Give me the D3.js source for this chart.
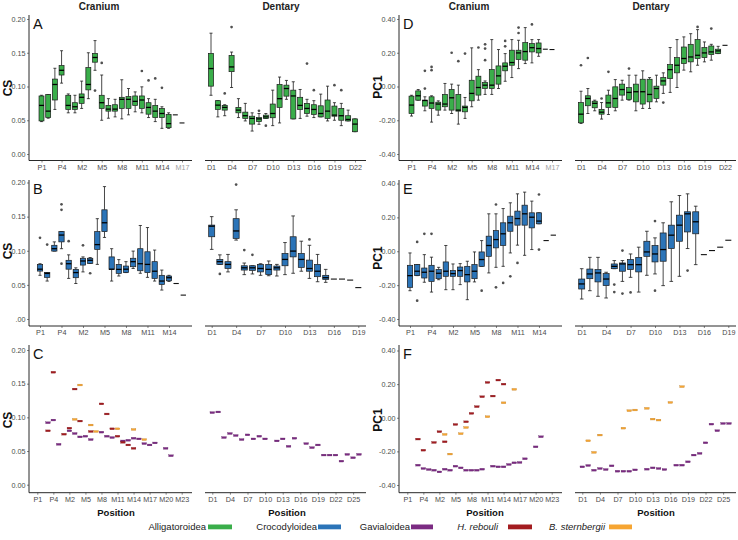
<!DOCTYPE html>
<html><head><meta charset="utf-8">
<script src="https://cdn.jsdelivr.net/npm/d3@7/dist/d3.min.js"></script>
<style>body{margin:0;background:#fff}svg{display:block}</style>
</head><body><svg id="c" width="738" height="540"></svg>
<script>
// ---------- categories ----------
const craniumCats22 = ["P1","P2","P3","P4","P5","M1","M2","M3","M4","M5","M6","M7","M8","M9","M10","M11","M12","M13","M14","M15","M16","M17"];
const craniumCats21 = ["P1","P2","P3","P4","P5","M1","M2","M3","M4","M5","M6","M7","M8","M9","M10","M11","M12","M13","M14","M15","M16"];
const craniumCats28 = ["P1","P2","P3","P4","P5","M1","M2","M3","M4","M5","M6","M7","M8","M9","M10","M11","M12","M13","M14","M15","M16","M17","M18","M19","M20","M21","M22","M23"];
const dentaryCats22 = ["D1","D2","D3","D4","D5","D6","D7","D8","D9","D10","D11","D12","D13","D14","D15","D16","D17","D18","D19","D20","D21","D22"];
const dentaryCats19 = ["D1","D2","D3","D4","D5","D6","D7","D8","D9","D10","D11","D12","D13","D14","D15","D16","D17","D18","D19"];
const dentaryCats26 = ["D1","D2","D3","D4","D5","D6","D7","D8","D9","D10","D11","D12","D13","D14","D15","D16","D17","D18","D19","D20","D21","D22","D23","D24","D25","D26"];

// ---------- tick labels ----------
const craniumTicks1 = ["P1","P4","M2","M5","M8","M11","M14","M17"];
const craniumTicks2 = ["P1","P4","M2","M5","M8","M11","M14"];
const craniumTicks3 = ["P1","P4","M2","M5","M8","M11","M14","M17","M20","M23"];
const dentaryTicks1 = ["D1","D4","D7","D10","D13","D16","D19","D22"];
const dentaryTicks2 = ["D1","D4","D7","D10","D13","D16","D19"];
const dentaryTicks3 = ["D1","D4","D7","D10","D13","D16","D19","D22","D25"];
const csTickValues = [0, 0.05, 0.10, 0.15, 0.20];
const csTickLabels = ["0.00","0.05","0.10","0.15","0.20"];
const csTickLabelsB = [".00","0.05","0.10","0.15","0.20"];
const pcTickValues = [-0.4, -0.2, 0, 0.2, 0.4];
const pcTickLabels = ["-0.40","-0.20","0.00","0.20","0.40"];

// ---------- box data: [position, lowerWhisker, q1, median, q3, upperWhisker, outliers] ----------
// A: Alligatoroidea CS
const csAlliCranium = [
 ["P1",0.048,0.049,0.072,0.086,0.087,[]],
 ["P2",0.053,0.054,0.0635,0.088,0.088,[]],
 ["P3",0.066,0.080,0.103,0.111,0.127,[]],
 ["P4",0.105,0.117,0.124,0.131,0.153,[]],
 ["P5",0.061,0.066,0.072,0.087,0.089,[]],
 ["M1",0.061,0.066,0.070,0.076,0.087,[]],
 ["M2",0.0675,0.075,0.084,0.089,0.108,[]],
 ["M3",0.082,0.095,0.103,0.128,0.150,[]],
 ["M4",0.124,0.136,0.143,0.149,0.168,[0.094]],
 ["M5",0.050,0.0675,0.076,0.087,0.117,[0.135]],
 ["M6",0.053,0.0635,0.0665,0.072,0.082,[]],
 ["M7",0.055,0.0635,0.0665,0.073,0.081,[]],
 ["M8",0.052,0.0675,0.081,0.084,0.110,[]],
 ["M9",0.058,0.0675,0.081,0.085,0.097,[]],
 ["M10",0.0625,0.072,0.078,0.086,0.092,[]],
 ["M11",0.061,0.0675,0.080,0.086,0.0995,[0.123]],
 ["M12",0.054,0.059,0.069,0.076,0.082,[0.109]],
 ["M13",0.048,0.054,0.0635,0.072,0.081,[0.112]],
 ["M14",0.038,0.054,0.060,0.0675,0.070,[0.098]],
 ["M15",0.038,0.039,0.045,0.0586,0.061,[]]
];
const csAlliCraniumSingle = [["M16",0.058],["M17",0.046]];
const csAlliDentary = [
 ["D1",0.087,0.1005,0.1266,0.149,0.179,[]],
 ["D2",0.055,0.066,0.0724,0.079,0.079,[]],
 ["D3",0.0567,0.065,0.069,0.072,0.073,[0.0897]],
 ["D4",0.0985,0.122,0.129,0.146,0.151,[0.188]],
 ["D5",0.054,0.061,0.065,0.069,0.082,[]],
 ["D6",0.049,0.0527,0.0567,0.062,0.075,[]],
 ["D7",0.034,0.0443,0.0527,0.056,0.061,[]],
 ["D8",0.044,0.048,0.052,0.054,0.060,[0.064]],
 ["D9",0.0527,0.0527,0.055,0.0576,0.060,[0.042]],
 ["D10",0.042,0.0537,0.060,0.074,0.0946,[]],
 ["D11",0.046,0.069,0.082,0.103,0.114,[]],
 ["D12",0.081,0.0857,0.097,0.102,0.109,[]],
 ["D13",0.052,0.052,0.086,0.0946,0.107,[]],
 ["D14",0.0527,0.066,0.072,0.084,0.0956,[]],
 ["D15",0.056,0.060,0.0675,0.075,0.081,[0.134]],
 ["D16",0.054,0.0586,0.066,0.073,0.079,[0.0946]],
 ["D17",0.055,0.055,0.060,0.0714,0.0887,[]],
 ["D18",0.049,0.0527,0.0635,0.080,0.1005,[]],
 ["D19",0.050,0.056,0.0576,0.071,0.076,[0.102]],
 ["D20",0.042,0.050,0.0567,0.0675,0.075,[0.0946]],
 ["D21",0.049,0.049,0.0512,0.0567,0.065,[]],
 ["D22",0.033,0.033,0.0443,0.052,0.052,[]]
];
const csAlliDentarySingle = [];

// D: Alligatoroidea PC1
const pcAlliCranium = [
 ["P1",-0.175,-0.160,-0.110,-0.057,-0.052,[]],
 ["P2",-0.081,-0.081,-0.055,-0.026,-0.018,[]],
 ["P3",-0.144,-0.116,-0.083,-0.081,-0.061,[0.093,-0.012]],
 ["P4",-0.211,-0.130,-0.098,-0.061,-0.055,[0.116,0.097]],
 ["P5",-0.170,-0.140,-0.104,-0.093,-0.085,[]],
 ["M1",-0.140,-0.120,-0.104,-0.047,0.018,[]],
 ["M2",-0.160,-0.140,-0.067,-0.018,0.014,[0.20]],
 ["M3",-0.223,-0.146,-0.140,-0.047,0.008,[0.15]],
 ["M4",-0.189,-0.150,-0.124,-0.116,-0.065,[0.195]],
 ["M5",-0.120,-0.085,-0.041,0.037,0.229,[]],
 ["M6",-0.081,-0.051,-0.006,0.061,0.10,[0.231]],
 ["M7",-0.047,-0.012,0.008,0.024,0.033,[0.25,0.225,0.156]],
 ["M8",-0.047,-0.012,0.008,0.10,0.278,[]],
 ["M9",-0.012,0.014,0.063,0.122,0.219,[]],
 ["M10",0.031,0.093,0.120,0.140,0.195,[0.27,0.238]],
 ["M11",0.053,0.126,0.142,0.215,0.278,[]],
 ["M12",0.106,0.160,0.199,0.215,0.274,[0.349,0.317]],
 ["M13",0.136,0.156,0.207,0.26,0.349,[]],
 ["M14",0.140,0.205,0.23,0.254,0.278,[0.368]],
 ["M15",0.179,0.199,0.225,0.258,0.278,[]]
];
const pcAlliCraniumSingle = [["M16",0.221],["M17",0.219]];
const pcAlliDentary = [
 ["D1",-0.219,-0.215,-0.164,-0.095,-0.028,[0.126]],
 ["D2",-0.160,-0.114,-0.071,-0.055,-0.012,[0.169]],
 ["D3",-0.144,-0.126,-0.10,-0.087,-0.081,[]],
 ["D4",-0.193,-0.164,-0.152,-0.136,-0.095,[-0.071]],
 ["D5",-0.166,-0.124,-0.097,-0.051,-0.022,[0.087]],
 ["D6",-0.144,-0.124,-0.071,-0.002,0.041,[]],
 ["D7",-0.081,-0.051,-0.018,0.014,0.037,[]],
 ["D8",-0.081,-0.077,-0.035,-0.006,0.067,[0.106]],
 ["D9",-0.144,-0.091,-0.031,0.014,0.067,[]],
 ["D10",-0.130,-0.104,-0.031,0.043,0.093,[]],
 ["D11",-0.130,-0.091,-0.047,0.043,0.053,[]],
 ["D12",-0.091,-0.071,-0.012,0.002,0.067,[]],
 ["D13",-0.041,0.008,0.033,0.053,0.081,[-0.095]],
 ["D14",-0.035,0.047,0.10,0.130,0.231,[]],
 ["D15",-0.006,0.081,0.126,0.171,0.278,[]],
 ["D16",0.097,0.136,0.166,0.234,0.294,[]],
 ["D17",0.087,0.146,0.175,0.25,0.313,[]],
 ["D18",0.126,0.166,0.185,0.278,0.337,[0.353]],
 ["D19",0.146,0.171,0.199,0.231,0.264,[]],
 ["D20",0.156,0.189,0.205,0.24,0.25,[0.343]],
 ["D21",0.195,0.195,0.211,0.221,0.238,[]]
];
const pcAlliDentarySingle = [["D22",0.244]];

// B: Crocodyloidea CS
const csCrocCranium = [
 ["P1",0.064,0.0702,0.073,0.080,0.081,[0.119]],
 ["P2",0.0556,0.061,0.0668,0.068,0.068,[0.109]],
 ["P3",0.0995,0.0995,0.103,0.108,0.113,[]],
 ["P4",0.103,0.113,0.123,0.128,0.128,[0.16,0.168,0.081]],
 ["P5",0.0595,0.073,0.081,0.086,0.094,[0.114]],
 ["M1",0.052,0.0605,0.068,0.0727,0.075,[]],
 ["M2",0.069,0.079,0.085,0.089,0.091,[0.108]],
 ["M3",0.0815,0.0815,0.086,0.089,0.090,[0.067]],
 ["M4",0.080,0.102,0.109,0.128,0.147,[]],
 ["M5",0.1195,0.128,0.141,0.16,0.194,[]],
 ["M6",0.0556,0.0727,0.073,0.091,0.103,[]],
 ["M7",0.063,0.0668,0.0727,0.080,0.087,[]],
 ["M8",0.068,0.068,0.073,0.0776,0.084,[]],
 ["M9",0.074,0.0766,0.084,0.089,0.0995,[]],
 ["M10",0.067,0.0707,0.081,0.103,0.137,[]],
 ["M11",0.061,0.068,0.080,0.0985,0.134,[]],
 ["M12",0.0556,0.0595,0.070,0.084,0.101,[]],
 ["M13",0.0424,0.0507,0.0556,0.064,0.0717,[]],
 ["M14",0.055,0.056,0.0605,0.063,0.064,[]]
];
const csCrocCraniumSingle = [["M15",0.052],["M16",0.035]];
const csCrocDentary = [
 ["D1",0.102,0.1205,0.136,0.1376,0.15,[]],
 ["D2",0.080,0.080,0.084,0.0873,0.094,[0.066]],
 ["D3",0.069,0.074,0.080,0.084,0.0946,[]],
 ["D4",0.1156,0.118,0.129,0.147,0.160,[0.197]],
 ["D5",0.065,0.0717,0.075,0.078,0.082,[0.101]],
 ["D6",0.066,0.0712,0.075,0.078,0.078,[0.094]],
 ["D7",0.064,0.069,0.074,0.080,0.081,[]],
 ["D8",0.0634,0.065,0.0727,0.080,0.085,[]],
 ["D9",0.063,0.0717,0.075,0.0776,0.080,[]],
 ["D10",0.065,0.078,0.0873,0.096,0.112,[]],
 ["D11",0.067,0.091,0.0995,0.1205,0.151,[]],
 ["D12",0.070,0.0756,0.0873,0.096,0.114,[]],
 ["D13",0.0595,0.070,0.074,0.0863,0.108,[0.1166]],
 ["D14",0.0546,0.062,0.070,0.080,0.0946,[]],
 ["D15",0.0537,0.058,0.0605,0.064,0.0727,[]]
];
const csCrocDentarySingle = [["D16",0.0585],["D17",0.0585],["D18",0.057],["D19",0.046]];

// E: Crocodyloidea PC1
const pcCrocCranium = [
 ["P1",-0.233,-0.213,-0.144,-0.083,-0.010,[]],
 ["P2",-0.144,-0.144,-0.118,-0.079,-0.079,[0.055,-0.292]],
 ["P3",-0.183,-0.158,-0.124,-0.099,-0.020,[0.103]],
 ["P4",-0.241,-0.178,-0.118,-0.083,-0.035,[0.103]],
 ["P5",-0.168,-0.162,-0.130,-0.108,-0.095,[]],
 ["M1",-0.227,-0.148,-0.118,-0.063,0.034,[]],
 ["M2",-0.227,-0.148,-0.132,-0.114,-0.075,[]],
 ["M3",-0.197,-0.148,-0.114,-0.093,-0.073,[]],
 ["M4",-0.286,-0.181,-0.138,-0.089,-0.059,[]],
 ["M5",-0.181,-0.162,-0.118,-0.079,-0.004,[]],
 ["M6",-0.089,-0.089,-0.049,-0.004,0.063,[-0.233]],
 ["M7",-0.128,-0.030,0.034,0.089,0.221,[]],
 ["M8",-0.095,0.020,0.069,0.122,0.221,[0.276,-0.213]],
 ["M9",-0.089,0.034,0.103,0.168,0.252,[-0.187]],
 ["M10",-0.010,0.118,0.168,0.207,0.286,[-0.148]],
 ["M11",0.036,0.154,0.193,0.237,0.339,[-0.069]],
 ["M12",-0.024,0.154,0.221,0.272,0.349,[]],
 ["M13",0.010,0.138,0.201,0.227,0.296,[]],
 ["M14",0.162,0.162,0.178,0.227,0.227,[0.335,0.010]]
];
const pcCrocCraniumSingle = [["M15",0.063],["M16",0.095]];
const pcCrocDentary = [
 ["D1",-0.282,-0.223,-0.193,-0.164,-0.103,[]],
 ["D2",-0.233,-0.162,-0.134,-0.105,-0.036,[]],
 ["D3",-0.266,-0.181,-0.128,-0.108,-0.036,[]],
 ["D4",-0.276,-0.203,-0.164,-0.132,-0.124,[]],
 ["D5",-0.103,-0.103,-0.089,-0.075,-0.055,[-0.197,-0.241]],
 ["D6",-0.178,-0.118,-0.075,-0.069,-0.055,[0.004,-0.250]],
 ["D7",-0.154,-0.108,-0.079,-0.049,-0.016,[-0.243]],
 ["D8",-0.241,-0.122,-0.079,-0.036,0.024,[]],
 ["D9",-0.142,-0.030,-0.004,0.059,0.118,[]],
 ["D10",-0.134,-0.063,-0.016,0.034,0.079,[0.178,-0.233]],
 ["D11",-0.203,-0.059,0.010,0.108,0.168,[]],
 ["D12",-0.178,0.016,0.095,0.154,0.292,[]],
 ["D13",-0.148,0.059,0.154,0.213,0.329,[]],
 ["D14",0.016,0.114,0.221,0.233,0.339,[-0.114]],
 ["D15",-0.079,0.103,0.174,0.233,0.266,[]]
];
const pcCrocDentarySingle = [["D16",-0.020],["D17",0.004],["D18",0.024],["D19",0.065]];

// C / F: single specimens [position, value]
const csGaviCranium = [["P3",0.092],["P4",0.096],["P5",0.060],["M2",0.080],["M3",0.076],["M4",0.071],["M5",0.072],["M6",0.067],["M8",0.078],["M9",0.072],["M10",0.070],["M12",0.065],["M13",0.066],["M14",0.069],["M15",0.068],["M16",0.061],["M17",0.059],["M18",0.062],["M20",0.054],["M21",0.043]];
const csHrebCranium = [["P3",0.080],["P4",0.167],["M1",0.075],["M2",0.084],["M3",0.142],["M4",0.0945],["M6",0.079],["M8",0.120],["M9",0.105],["M10",0.083],["M11",0.072],["M12",0.063],["M13",0.059],["M14",0.054]];
const csBsteCranium = [["M3",0.097],["M4",0.148],["M6",0.0886],["M7",0.079],["M11",0.083],["M14",0.082],["M16",0.067]];
const csGaviDentary = [["D1",0.107],["D2",0.108],["D3",0.070],["D4",0.076],["D5",0.073],["D6",0.067],["D7",0.074],["D8",0.068],["D9",0.072],["D10",0.068],["D12",0.065],["D13",0.068],["D14",0.057],["D15",0.069],["D17",0.061],["D18",0.055],["D19",0.059],["D20",0.044],["D21",0.044],["D22",0.044],["D23",0.035],["D24",0.045],["D25",0.040],["D26",0.045]];
const csBsteDentary = [];

const pcGaviCranium = [["P3",-0.282],["P4",-0.302],["P5",-0.308],["M1",-0.312],["M2",-0.322],["M3",-0.306],["M4",-0.312],["M5",-0.288],["M6",-0.298],["M7",-0.312],["M8",-0.312],["M9",-0.312],["M10",-0.306],["M12",-0.288],["M13",-0.292],["M14",-0.292],["M15",-0.278],["M16",-0.268],["M17",-0.266],["M18",-0.244],["M20",-0.173],["M21",-0.113]];
const pcHrebCranium = [["P3",-0.127],["P4",-0.193],["M1",-0.147],["M2",-0.083],["M3",-0.143],["M5",-0.040],["M7",-0.024],["M8",0.026],["M9",0.066],["M10",0.125],["M11",0.210],["M12",0.129],["M13",0.224],["M14",0.200]];
const pcBsteCranium = [["M3",-0.099],["M4",-0.216],["M6",-0.095],["M7",-0.058],["M11",0.006],["M14",0.089],["M16",0.169]];
const pcGaviDentary = [["D1",-0.292],["D2",-0.284],["D3",-0.312],["D4",-0.302],["D5",-0.308],["D6",-0.286],["D7",-0.318],["D8",-0.318],["D9",-0.318],["D10",-0.310],["D12",-0.306],["D13",-0.298],["D14",-0.302],["D15",-0.308],["D17",-0.282],["D18",-0.282],["D19",-0.262],["D20",-0.222],["D21",-0.212],["D22",-0.149],["D23",-0.038],["D24",-0.077],["D25",-0.034],["D26",-0.034]];
const pcBsteDentary = [["D2",-0.137],["D3",-0.206],["D4",-0.103],["D8",-0.062],["D9",0.042],["D10",0.046],["D12",0.056],["D13",-0.008],["D14",-0.014],["D16",0.091],["D18",0.185]];

// legend
const legendNames = ["Alligatoroidea","Crocodyloidea","Gavialoidea","H. rebouli","B. sternbergii"];

// ---------- drawing ----------
const COL = {alli:"#3aae4a", croc:"#2b74b8", gavi:"#7b2b82", hreb:"#a31c20", bste:"#f6a532"};
const FONT = "'Liberation Sans', Arial, Helvetica, sans-serif";
const svg = d3.select("#c");

const rows = [
 {cs:[154,19], pc:[154,19], axisY:160.5, top:15, cr:[41.5,182], de:[211,355], letterY:28.5, titleY:{cs:88, pc:87}},
 {cs:[319,182.5], pc:[319,183.5], axisY:326, top:180, cr:[40,183.3], de:[211.7,358.3], letterY:193.5, titleY:{cs:251, pc:258}},
 {cs:[484.7,350], pc:[485,350.5], axisY:492.7, top:345, cr:[37.3,181.7], de:[212.3,359], letterY:358.5, titleY:{cs:420, pc:420}}
];

function yScale(row, metric){
  return d3.scaleLinear().domain(metric==="cs"?[0,0.2]:[-0.4,0.4]).range(rows[row][metric]);
}

function drawPanel(o){
  const r = rows[o.row], off = o.col*370;
  const x = d3.scalePoint().domain(o.cats).range(r[o.part].map(v=>v+off));
  const y = yScale(o.row, o.metric);
  const step = x.step();
  const bw = step*0.74;
  const ext = o.part==="cr" ? [29+off,192+off] : [205+off,366+off];
  const g = svg.append("g");

  // x axis
  g.append("line").attr("x1",ext[0]).attr("x2",ext[1]).attr("y1",r.axisY).attr("y2",r.axisY)
    .attr("stroke","#111").attr("stroke-width",0.9);
  const ax = g.append("g").attr("transform",`translate(0,${r.axisY})`)
    .call(d3.axisBottom(x).tickValues(o.ticks).tickSize(2).tickPadding(2));
  ax.select(".domain").remove();
  ax.selectAll(".tick line").attr("stroke","#333").attr("stroke-width",0.6);
  ax.selectAll(".tick text").attr("font-family",FONT).attr("font-size",7.2)
    .attr("fill", d => (o.faint && o.faint.includes(d)) ? "#a0a0a0" : "#4a4a4a");

  // y axis (cranium panels only)
  if(o.part==="cr"){
    const yx = 29+off;
    g.append("line").attr("x1",yx).attr("x2",yx).attr("y1",r.top).attr("y2",r.axisY)
      .attr("stroke","#111").attr("stroke-width",0.9);
    const vals = o.metric==="cs"?csTickValues:pcTickValues;
    const labs = o.yLabels;
    const ay = g.append("g").attr("transform",`translate(${yx},0)`)
      .call(d3.axisLeft(y).tickValues(vals).tickSize(2).tickPadding(1.5).tickFormat((d,i)=>labs[i]));
    ay.select(".domain").remove();
    ay.selectAll(".tick line").attr("stroke","#333").attr("stroke-width",0.6);
    ay.selectAll(".tick text").attr("font-family",FONT).attr("font-size",7.2).attr("fill","#4a4a4a");
    g.append("text").attr("x",33+off).attr("y",r.letterY).text(o.letter)
      .attr("font-family",FONT).attr("font-size",14.5).attr("fill","#111");
    g.append("text").attr("transform",`translate(${11.8+off},${r.titleY[o.metric]}) rotate(-90)`)
      .attr("text-anchor","middle").text(o.metric==="cs"?"CS":"PC1")
      .attr("font-family",FONT).attr("font-size",12).attr("font-weight","bold").attr("fill","#111");
  }

  // boxes
  if(o.boxes){
    const bg = g.selectAll("g.box").data(o.boxes).join("g");
    bg.each(function(b){
      const s = d3.select(this), cx = x(b[0]);
      const cap = bw*0.3;
      const wl = (y1,y2)=>s.append("line").attr("x1",cx).attr("x2",cx).attr("y1",y1).attr("y2",y2).attr("stroke","#1a1a1a").attr("stroke-width",0.8);
      wl(y(b[1]),y(b[2])); wl(y(b[4]),y(b[5]));
      [b[1],b[5]].forEach(v=>s.append("line").attr("x1",cx-cap).attr("x2",cx+cap).attr("y1",y(v)).attr("y2",y(v)).attr("stroke","#1a1a1a").attr("stroke-width",0.8));
      s.append("rect").attr("x",cx-bw/2).attr("width",bw).attr("y",y(b[4])).attr("height",Math.max(0.5,y(b[2])-y(b[4])))
        .attr("fill",o.fill).attr("stroke","#1a1a1a").attr("stroke-width",0.7);
      s.append("line").attr("x1",cx-bw/2).attr("x2",cx+bw/2).attr("y1",y(b[3])).attr("y2",y(b[3])).attr("stroke","#000").attr("stroke-width",1.3);
      s.selectAll("circle").data(b[6]).join("circle").attr("cx",cx).attr("cy",d=>y(d)).attr("r",1.35).attr("fill","#505050");
    });
  }
  if(o.singles){
    g.selectAll("line.single").data(o.singles).join("line")
      .attr("x1",d=>x(d[0])-bw/2).attr("x2",d=>x(d[0])+bw/2)
      .attr("y1",d=>y(d[1])).attr("y2",d=>y(d[1])).attr("stroke","#111").attr("stroke-width",1.1);
  }
  if(o.groups){
    o.groups.forEach(([data,color])=>{
      g.selectAll(null).data(data).join("rect")
        .attr("x",d=>x(d[0])-2.3).attr("width",4.6)
        .attr("y",d=>y(d[1])-0.9).attr("height",1.8)
        .attr("fill",color).attr("stroke",d3.color(color).darker(0.8)).attr("stroke-width",0.3);
    });
  }
}

// Row 1
drawPanel({row:0,col:0,part:"cr",metric:"cs",cats:craniumCats22,ticks:craniumTicks1,faint:["M17"],boxes:csAlliCranium,singles:csAlliCraniumSingle,fill:COL.alli,letter:"A",yLabels:csTickLabels});
drawPanel({row:0,col:0,part:"de",metric:"cs",cats:dentaryCats22,ticks:dentaryTicks1,boxes:csAlliDentary,singles:csAlliDentarySingle,fill:COL.alli});
drawPanel({row:0,col:1,part:"cr",metric:"pc",cats:craniumCats22,ticks:craniumTicks1,faint:["M17"],boxes:pcAlliCranium,singles:pcAlliCraniumSingle,fill:COL.alli,letter:"D",yLabels:pcTickLabels});
drawPanel({row:0,col:1,part:"de",metric:"pc",cats:dentaryCats22,ticks:dentaryTicks1,boxes:pcAlliDentary,singles:pcAlliDentarySingle,fill:COL.alli});
// Row 2
drawPanel({row:1,col:0,part:"cr",metric:"cs",cats:craniumCats21,ticks:craniumTicks2,boxes:csCrocCranium,singles:csCrocCraniumSingle,fill:COL.croc,letter:"B",yLabels:csTickLabelsB});
drawPanel({row:1,col:0,part:"de",metric:"cs",cats:dentaryCats19,ticks:dentaryTicks2,boxes:csCrocDentary,singles:csCrocDentarySingle,fill:COL.croc});
drawPanel({row:1,col:1,part:"cr",metric:"pc",cats:craniumCats21,ticks:craniumTicks2,boxes:pcCrocCranium,singles:pcCrocCraniumSingle,fill:COL.croc,letter:"E",yLabels:pcTickLabels});
drawPanel({row:1,col:1,part:"de",metric:"pc",cats:dentaryCats19,ticks:dentaryTicks2,boxes:pcCrocDentary,singles:pcCrocDentarySingle,fill:COL.croc});
// Row 3
drawPanel({row:2,col:0,part:"cr",metric:"cs",cats:craniumCats28,ticks:craniumTicks3,groups:[[csGaviCranium,COL.gavi],[csHrebCranium,COL.hreb],[csBsteCranium,COL.bste]],letter:"C",yLabels:csTickLabels});
drawPanel({row:2,col:0,part:"de",metric:"cs",cats:dentaryCats26,ticks:dentaryTicks3,groups:[[csGaviDentary,COL.gavi],[csBsteDentary,COL.bste]]});
drawPanel({row:2,col:1,part:"cr",metric:"pc",cats:craniumCats28,ticks:craniumTicks3,groups:[[pcGaviCranium,COL.gavi],[pcHrebCranium,COL.hreb],[pcBsteCranium,COL.bste]],letter:"F",yLabels:pcTickLabels});
drawPanel({row:2,col:1,part:"de",metric:"pc",cats:dentaryCats26,ticks:dentaryTicks3,groups:[[pcGaviDentary,COL.gavi],[pcBsteDentary,COL.bste]]});

// facet titles
[["Cranium",99],["Dentary",281],["Cranium",469],["Dentary",651]].forEach(([t,x])=>{
  svg.append("text").attr("x",x).attr("y",9.5).attr("text-anchor","middle").text(t)
    .attr("font-family",FONT).attr("font-size",10).attr("font-weight","bold").attr("fill","#222");
});
// Position labels
[116,287,485,656].forEach(x=>{
  svg.append("text").attr("x",x).attr("y",515.5).attr("text-anchor","middle").text("Position")
    .attr("font-family",FONT).attr("font-size",9.5).attr("font-weight","bold").attr("fill","#111");
});
// legend
const legendLayout = [
  {textEnd:206, rect:[208,232], color:COL.alli, italic:false},
  {textEnd:317, rect:[318,341], color:COL.croc, italic:false},
  {textEnd:410, rect:[411,433], color:COL.gavi, italic:false},
  {textEnd:498, rect:[508,532], color:COL.hreb, italic:true},
  {textEnd:605, rect:[609,632], color:COL.bste, italic:true}
];
legendNames.forEach((n,i)=>{
  const L = legendLayout[i];
  svg.append("text").attr("x",L.textEnd).attr("y",530).attr("text-anchor","end").text(n)
    .attr("font-family",FONT).attr("font-size",9.5).attr("font-style",L.italic?"italic":"normal").attr("fill","#222");
  svg.append("rect").attr("x",L.rect[0]).attr("width",L.rect[1]-L.rect[0]).attr("y",524.5).attr("height",4.8).attr("fill",L.color);
});
</script></body></html>
